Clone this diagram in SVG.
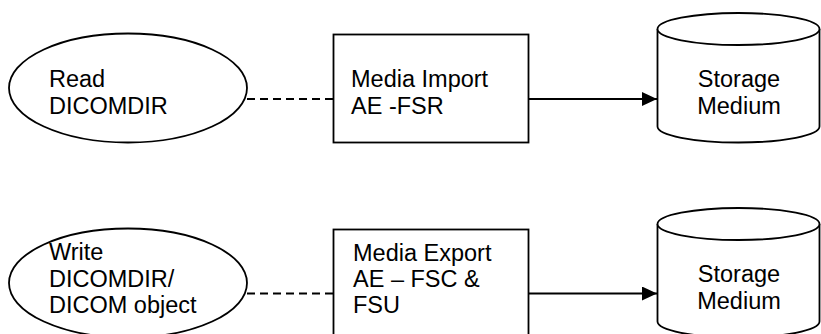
<svg xmlns="http://www.w3.org/2000/svg" width="821" height="334" viewBox="0 0 821 334">
<style>
.shape{fill:#fff;stroke:#000;stroke-width:1.8}
.t{font-family:"Liberation Sans",Arial,sans-serif;font-size:23.5px;fill:#000}
.dash{stroke:#000;stroke-width:1.8;stroke-dasharray:8 5;fill:none}
.solid{stroke:#000;stroke-width:1.8;fill:none}
</style>
<defs>
<marker id="arr" markerWidth="15" markerHeight="14" refX="15" refY="7" orient="auto" markerUnits="userSpaceOnUse">
<path d="M0,0 L15,7 L0,14 Z" fill="#000"/>
</marker>
</defs>
<rect width="821" height="334" fill="#fff"/>
<g id="connectors">
<line class="dash" x1="247" y1="99" x2="333.5" y2="99"/>
<line class="solid" x1="528.5" y1="99" x2="657" y2="99" marker-end="url(#arr)"/>
<line class="dash" x1="247" y1="293.5" x2="333.5" y2="293.5"/>
<line class="solid" x1="528.5" y1="293.5" x2="657" y2="293.5" marker-end="url(#arr)"/>
</g>
<g id="read">
<ellipse class="shape" cx="128" cy="88" rx="119" ry="54.5"/>
<text class="t" x="49" y="87">Read</text>
<text class="t" x="49" y="114">DICOMDIR</text>
</g>
<g id="import">
<rect class="shape" x="333.5" y="34.5" width="195" height="108"/>
<text class="t" x="351" y="87">Media Import</text>
<text class="t" x="351" y="114">AE -FSR</text>
</g>
<g id="storage1">
<path class="shape" d="M657.5,29 L657.5,126.5 A81,16 0 0 0 819.5,126.5 L819.5,29"/>
<ellipse class="shape" cx="738.5" cy="29" rx="81" ry="16"/>
<text class="t" x="739" y="86.5" text-anchor="middle">Storage</text>
<text class="t" x="739" y="113.5" text-anchor="middle">Medium</text>
</g>
<g id="write">
<ellipse class="shape" cx="128" cy="283" rx="119" ry="54.5"/>
<text class="t" x="49" y="260">Write</text>
<text class="t" x="49" y="286.7">DICOMDIR/</text>
<text class="t" x="49" y="313.3">DICOM object</text>
</g>
<g id="export">
<rect class="shape" x="333.5" y="229.5" width="195" height="108"/>
<text class="t" x="353" y="260.7">Media Export</text>
<text class="t" x="353" y="286.7">AE – FSC &amp;</text>
<text class="t" x="353" y="313.3">FSU</text>
</g>
<g id="storage2">
<path class="shape" d="M657.5,224 L657.5,321.5 A81,16 0 0 0 819.5,321.5 L819.5,224"/>
<ellipse class="shape" cx="738.5" cy="224" rx="81" ry="16"/>
<text class="t" x="739" y="281.5" text-anchor="middle">Storage</text>
<text class="t" x="739" y="308.5" text-anchor="middle">Medium</text>
</g>
</svg>
